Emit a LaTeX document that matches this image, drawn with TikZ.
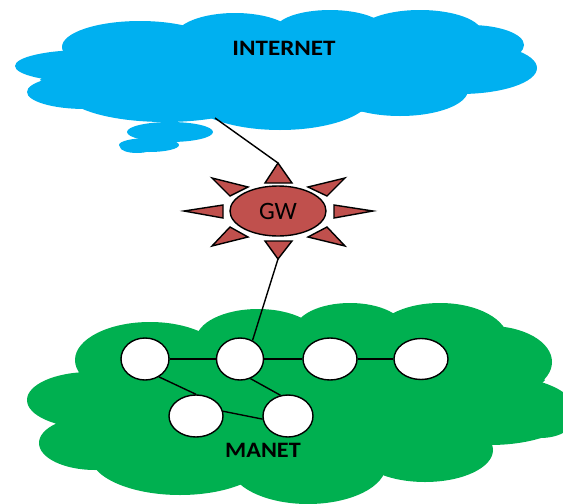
\documentclass[tikz,border=0pt]{standalone}
\usepackage{fontspec}
\setmainfont{Carlito}
\usetikzlibrary{shapes.geometric}
\definecolor{netblue}{HTML}{00B0F0}
\definecolor{netgreen}{HTML}{00B050}
\definecolor{gwred}{HTML}{C0504D}
\tikzset{
  hostnode/.style={draw=black,fill=white,ellipse,line width=1.4pt,inner sep=0pt},
  ray/.style={draw=black,fill=gwred,line width=1.4pt,line join=miter},
  link/.style={draw=black,line width=1.4pt},
  gateway/.style={draw=black,fill=gwred,ellipse,line width=1.4pt,inner sep=0pt,minimum width=96pt,minimum height=50pt},
  cloudlabel/.style={font=\fontsize{22}{24}\selectfont\bfseries,text=black,inner sep=0pt}
}
\newcommand{\bump}[4]{\fill (#1,#2) ellipse [x radius=#3, y radius=#4];}
\begin{document}
\begin{tikzpicture}[x=1pt,y=-1pt]
\useasboundingbox (0,0) rectangle (563,504);
\clip (0,0) rectangle (563,504);
% Internet cloud
\begin{scope}[netblue]
\bump{140}{47}{78}{26}
\bump{235}{37}{60}{24}
\bump{330}{30}{55}{20}
\bump{420}{33}{62}{23}
\bump{470}{45}{54}{20}
\bump{460}{68}{77}{26}
\bump{85}{66}{70}{16}
\bump{85}{92}{58}{17}
\bump{165}{92}{100}{30}
\bump{280}{95}{92}{35}
\bump{400}{90}{68}{26}
\bump{170}{132}{43}{10}
\bump{149}{145}{30}{7}
\bump{137}{147}{17}{6}
\fill (62,56) -- (180,32) -- (290,26) -- (370,24) -- (480,35) -- (520,60) -- (460,90) -- (360,112) -- (215,118) -- (90,105) -- (40,80) -- cycle;
\end{scope}
% MANET cloud
\begin{scope}[netgreen]
\bump{150}{360}{75}{38}
\bump{258}{340}{62}{31}
\bump{350}{330}{55}{27}
\bump{440}{340}{68}{37}
\bump{490}{362}{62}{36}
\bump{490}{410}{85}{35}
\bump{540}{424}{30}{14}
\bump{425}{450}{68}{32}
\bump{308}{465}{78}{39}
\bump{180}{455}{90}{40}
\bump{95}{443}{56}{27}
\bump{90}{400}{63}{28}
\fill (80,372) -- (200,335) -- (305,325) -- (400,320) -- (500,340) -- (545,380) -- (490,440) -- (380,470) -- (232,485) -- (100,465) -- (52,420) -- cycle;
\end{scope}
% Labels
\node[cloudlabel,xscale=1.14] (internet) at (284,48) {INTERNET};
\node[cloudlabel,xscale=1.1] (manet) at (263,450) {MANET};
\coordinate (cloudfoot) at (215,118);
% Gateway
\node[gateway] (gw) at (278,211) {\fontsize{25}{27}\selectfont GW};
\coordinate (raytop) at (278,163);
\coordinate (raybottom) at (278,259);
\draw[ray] (raytop) -- (265,183) -- (292,183) -- cycle;
\draw[ray] (raybottom) -- (265,241) -- (292,241) -- cycle;
\draw[ray] (184,211) -- (223,205) -- (223,218) -- cycle;
\draw[ray] (373,211) -- (334,205) -- (334,218) -- cycle;
\draw[ray] (212,178) -- (248,187) -- (230,196) -- cycle;
\draw[ray] (345,178) -- (308,187) -- (327,196) -- cycle;
\draw[ray] (212,246) -- (248,237) -- (230,227) -- cycle;
\draw[ray] (345,246) -- (308,237) -- (327,227) -- cycle;
% Hosts
\node[hostnode,minimum width=48pt,minimum height=42pt] (n1) at (145,359) {};
\node[hostnode,minimum width=47pt,minimum height=42pt] (n2) at (240,359) {};
\node[hostnode,minimum width=54pt,minimum height=42pt] (n3) at (330,359) {};
\node[hostnode,minimum width=54pt,minimum height=41pt] (n4) at (421,359) {};
\node[hostnode,minimum width=54pt,minimum height=42pt] (n5) at (196,416) {};
\node[hostnode,minimum width=50pt,minimum height=42pt] (n6) at (288,416) {};
% Links
\draw[link] (cloudfoot) -- (raytop);
\draw[link] (raybottom) -- (n2.56);
\draw[link] (n1) -- (n2);
\draw[link] (n2) -- (n3);
\draw[link] (n3) -- (n4);
\draw[link] (n1.-52) -- (n5.90);
\draw[link] (n2.-62) -- (n6.110);
\draw[link] (n5.10) -- (n6.187);
\end{tikzpicture}
\end{document}
